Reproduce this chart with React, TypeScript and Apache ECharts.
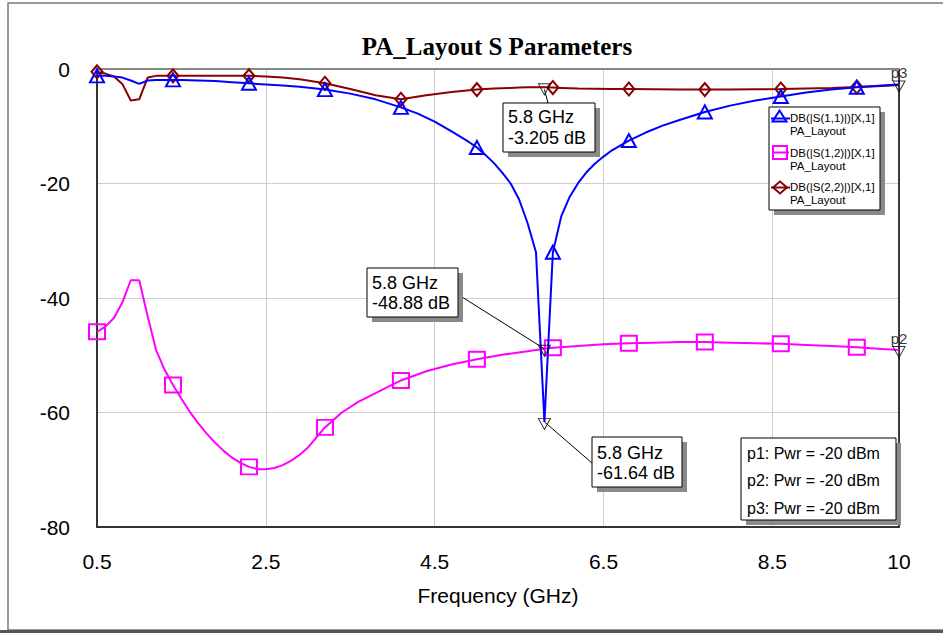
import React, { useEffect, useRef } from "react";
import * as echarts from "echarts";

// S(1,1): frequency grid (GHz) and values (dB)
const f11 = [0.5,0.6,0.7,0.8,0.9,1.0,1.1,1.2,1.3,1.4,1.5,1.7,1.9,2.1,2.3,2.5,2.7,2.9,3.2,3.5,3.8,4.1,4.3,4.5,4.7,4.9,5.0,5.1,5.2,5.3,5.4,5.5,5.6,5.7,5.8,5.9,6.0,6.1,6.2,6.3,6.4,6.5,6.6,6.8,7.0,7.2,7.4,7.7,8.0,8.3,8.6,8.9,9.2,9.5,9.8,10.0];
const s11 = [-1.2,-1.2,-1.3,-1.5,-2.0,-2.6,-2.0,-1.9,-1.9,-1.9,-1.9,-2.0,-2.1,-2.3,-2.5,-2.7,-2.9,-3.1,-3.6,-4.3,-5.3,-6.7,-7.8,-9.2,-10.9,-12.7,-13.7,-15.0,-16.4,-18.1,-20.0,-22.8,-26.9,-32.0,-61.64,-32.0,-25.7,-22.3,-19.9,-18.0,-16.5,-15.3,-14.2,-12.5,-11.1,-9.9,-8.9,-7.5,-6.4,-5.5,-4.8,-4.1,-3.6,-3.2,-2.9,-2.7];

// S(1,2): frequency grid (GHz) and values (dB)
const f12 = [0.5,0.6,0.7,0.8,0.9,1.0,1.1,1.2,1.3,1.4,1.5,1.6,1.7,1.8,1.9,2.0,2.1,2.2,2.3,2.4,2.5,2.6,2.7,2.8,2.9,3.0,3.2,3.4,3.6,3.8,4.1,4.4,4.7,5.0,5.3,5.6,5.8,5.9,6.2,6.5,6.8,7.1,7.4,7.7,8.0,8.3,8.6,8.9,9.2,9.5,9.8,10.0];
const s12 = [-45.9,-45.0,-43.5,-40.8,-36.9,-36.9,-43.2,-49.1,-52.5,-55.2,-57.6,-59.9,-61.9,-63.7,-65.3,-66.7,-67.9,-68.8,-69.5,-69.9,-69.9,-69.7,-69.2,-68.4,-67.4,-66.1,-62.6,-60.0,-58.1,-56.6,-54.4,-52.8,-51.6,-50.7,-49.9,-49.3,-48.88,-48.7,-48.4,-48.1,-47.9,-47.8,-47.7,-47.7,-47.8,-47.9,-48.0,-48.2,-48.4,-48.6,-48.9,-49.1];

// S(2,2): frequency grid (GHz) and values (dB)
const f22 = [0.5,0.6,0.7,0.8,0.9,1.0,1.1,1.2,1.3,1.4,1.5,1.7,1.9,2.1,2.3,2.5,2.7,2.9,3.2,3.5,3.8,4.1,4.4,4.7,5.0,5.2,5.4,5.5,5.6,5.7,5.8,5.9,6.0,6.1,6.2,6.4,6.6,6.8,7.1,7.4,7.7,8.0,8.3,8.6,8.9,9.2,9.5,9.8,10.0];
const s22 = [-0.5,-0.8,-1.3,-2.6,-5.5,-5.3,-1.5,-1.2,-1.2,-1.2,-1.2,-1.2,-1.2,-1.2,-1.2,-1.3,-1.5,-1.8,-2.5,-3.5,-4.6,-5.3,-4.6,-4.0,-3.6,-3.4,-3.3,-3.25,-3.2,-3.2,-3.205,-3.25,-3.3,-3.35,-3.4,-3.45,-3.5,-3.5,-3.55,-3.6,-3.6,-3.6,-3.55,-3.5,-3.4,-3.3,-3.15,-2.95,-2.8];

const markerFreqs = [0.5,1.4,2.3,3.2,4.1,5.0,5.9,6.8,7.7,8.6,9.5];

const seriesNames = ["DB(|S(1,1)|)[X,1]", "DB(|S(1,2)|)[X,1]", "DB(|S(2,2)|)[X,1]"];
const seriesSub = "PA_Layout";

const markerFreq = 5.8;
const markerVals = [-3.205, -48.88, -61.64];
const markerTexts = [["5.8 GHz", "-3.205 dB"], ["5.8 GHz", "-48.88 dB"], ["5.8 GHz", "-61.64 dB"]];
const portMarkers = [
  { name: "p3", f: 10, v: -2.7 },
  { name: "p2", f: 10, v: -49.1 },
];
const powerLines = ["p1: Pwr = -20 dBm", "p2: Pwr = -20 dBm", "p3: Pwr = -20 dBm"];

const xMin = 0.5, xMax = 10, xInterval = 2;
const yMin = -80, yMax = 0, yInterval = 20;

const SANS = "'Liberation Sans', Arial, Helvetica, sans-serif";
const SERIF = "'Liberation Serif', 'Times New Roman', serif";
const BLUE = "#0000ff";
const MAG = "#ff00ff";
const MAROON = "#8b0000";

function buildData(fs: number[], vals: number[]) {
  return fs.map((f, i) => {
    const item: any = { value: [f, vals[i]] };
    if (!markerFreqs.includes(f)) item.symbol = "none";
    return item;
  });
}

function box(x: number, y: number, w: number, h: number, lines: string[], fontSize: number, lineGap: number, textTop: number, textLeft: number) {
  const els: any[] = [
    { type: "rect", shape: { x: x + 5, y: y + 5, width: w, height: h }, style: { fill: "#8a8a8a" }, z: 100 },
    { type: "rect", shape: { x, y, width: w, height: h }, style: { fill: "#fff", stroke: "#000", lineWidth: 1 }, z: 101 },
  ];
  lines.forEach((t, i) => {
    els.push({
      type: "text", x: textLeft, y: textTop + i * lineGap, z: 102,
      style: { text: t, fill: "#000", font: `${fontSize}px ${SANS}`, verticalAlign: "middle", align: "left" },
    });
  });
  return els;
}

export default function App() {
  const ref = useRef<HTMLDivElement>(null);
  useEffect(() => {
    if (!ref.current) return;
    const chart = echarts.init(ref.current, null, { renderer: "svg" });
    const axisCommon = { min: xMin, max: xMax, interval: xInterval };
    const option: any = {
      animation: false,
      backgroundColor: "#fff",
      grid: { left: 97, top: 69, right: 44, bottom: 106 },
      xAxis: [
        {
          type: "value", position: "bottom", ...axisCommon,
          axisLine: { show: true, onZero: false, lineStyle: { color: "#333", width: 2 } },
          axisTick: { show: false },
          axisLabel: { color: "#000", fontSize: 21, fontFamily: SANS, margin: 24 },
          splitLine: { show: true, lineStyle: { color: "#cfcfcf", width: 1 } },
          name: "Frequency (GHz)", nameLocation: "middle", nameGap: 58,
          nameTextStyle: { color: "#000", fontSize: 21, fontFamily: SANS },
        },
        {
          type: "value", position: "top", ...axisCommon,
          axisLine: { show: true, onZero: false, lineStyle: { color: "#888", width: 2 } },
          axisTick: { show: false }, axisLabel: { show: false }, splitLine: { show: false },
        },
      ],
      yAxis: [
        {
          type: "value", min: yMin, max: yMax, interval: yInterval,
          axisLine: { show: true, onZero: false, lineStyle: { color: "#333", width: 2 } },
          axisTick: { show: false },
          axisLabel: { color: "#000", fontSize: 21, fontFamily: SANS, margin: 27 },
          splitLine: { show: true, lineStyle: { color: "#cfcfcf", width: 1 } },
        },
        {
          type: "value", position: "right", min: yMin, max: yMax, interval: yInterval,
          axisLine: { show: true, onZero: false, lineStyle: { color: "#000", width: 1.5 } },
          axisTick: { show: false }, axisLabel: { show: false }, splitLine: { show: false },
        },
      ],
      series: [
        {
          name: seriesNames[0], type: "line", data: buildData(f11, s11),
          symbol: "triangle", symbolSize: [14, 13], showAllSymbol: true,
          lineStyle: { color: BLUE, width: 2 },
          itemStyle: { color: "rgba(0,0,0,0)", borderColor: BLUE, borderWidth: 2 },
          z: 3,
        },
        {
          name: seriesNames[1], type: "line", data: buildData(f12, s12),
          symbol: "rect", symbolSize: [16, 15], showAllSymbol: true,
          lineStyle: { color: MAG, width: 2 },
          itemStyle: { color: "rgba(0,0,0,0)", borderColor: MAG, borderWidth: 2 },
          z: 2,
        },
        {
          name: seriesNames[2], type: "line", data: buildData(f22, s22),
          symbol: "diamond", symbolSize: [11, 13], showAllSymbol: true,
          lineStyle: { color: MAROON, width: 2 },
          itemStyle: { color: "rgba(0,0,0,0)", borderColor: MAROON, borderWidth: 2 },
          z: 2,
        },
        {
          type: "scatter",
          data: [
            ...markerVals.map((v) => ({ value: [markerFreq, v] })),
            ...portMarkers.map((p) => ({
              value: [p.f, p.v], name: p.name,
              label: { show: true, position: "top", distance: 0, formatter: "{b}", color: "#000", fontSize: 15, fontFamily: SANS },
            })),
          ],
          symbol: "triangle", symbolRotate: 180, symbolSize: [12, 11], symbolOffset: [0, 2],
          itemStyle: { color: "rgba(255,255,255,0)", borderColor: "#000", borderWidth: 1 },
          z: 5,
        },
      ],
    };
    chart.setOption(option);

    const px = (f: number, v: number) => chart.convertToPixel({ gridIndex: 0 }, [f, v]) as number[];
    const m0 = px(markerFreq, markerVals[0]);
    const m1 = px(markerFreq, markerVals[1]);
    const m2 = px(markerFreq, markerVals[2]);

    const legendEls: any[] = [
      { type: "rect", shape: { x: 774, y: 112, width: 111, height: 103 }, style: { fill: "#8a8a8a" }, z: 100 },
      { type: "rect", shape: { x: 769, y: 107, width: 111, height: 103 }, style: { fill: "#fff", stroke: "#000", lineWidth: 1 }, z: 101 },
      { type: "line", shape: { x1: 771, y1: 118.5, x2: 790, y2: 118.5 }, style: { stroke: BLUE, lineWidth: 2 }, z: 102 },
      { type: "polygon", shape: { points: [[779.5, 110.5], [786.5, 121.5], [772.5, 121.5]] }, style: { fill: "none", stroke: BLUE, lineWidth: 2 }, z: 102 },
      { type: "line", shape: { x1: 772, y1: 152.5, x2: 789, y2: 152.5 }, style: { stroke: MAG, lineWidth: 2 }, z: 102 },
      { type: "rect", shape: { x: 773, y: 146, width: 14, height: 13 }, style: { fill: "none", stroke: MAG, lineWidth: 2 }, z: 102 },
      { type: "line", shape: { x1: 771, y1: 187.5, x2: 790, y2: 187.5 }, style: { stroke: MAROON, lineWidth: 2 }, z: 102 },
      { type: "polygon", shape: { points: [[780, 181.5], [787, 187.5], [780, 193.5], [773, 187.5]] }, style: { fill: "none", stroke: MAROON, lineWidth: 2 }, z: 102 },
    ];
    const legendY = [118, 153, 187];
    seriesNames.forEach((n, i) => {
      legendEls.push({ type: "text", x: 790, y: legendY[i], z: 102, style: { text: n, fill: "#000", font: `11.5px ${SANS}`, verticalAlign: "middle" } });
      legendEls.push({ type: "text", x: 790, y: legendY[i] + 13, z: 102, style: { text: seriesSub, fill: "#000", font: `11.5px ${SANS}`, verticalAlign: "middle" } });
    });

    const graphic: any[] = [
      { type: "rect", shape: { x: 8, y: 3, width: 945, height: 627 }, style: { fill: "none", stroke: "#7a7a7a", lineWidth: 1.5 }, z: 0 },
      { type: "line", shape: { x1: 0, y1: 631.5, x2: 943, y2: 631.5 }, style: { stroke: "#555", lineWidth: 3 }, z: 0 },
      {
        type: "text", x: 497, y: 46, z: 10,
        style: { text: "PA_Layout S Parameters", fill: "#000", font: `bold 25px ${SERIF}`, align: "center", verticalAlign: "middle" },
      },
      { type: "line", shape: { x1: 548, y1: 103, x2: m0[0], y2: m0[1] + 2 }, style: { stroke: "#000", lineWidth: 1 }, z: 99 },
      { type: "line", shape: { x1: 462, y1: 297, x2: m1[0], y2: m1[1] }, style: { stroke: "#000", lineWidth: 1 }, z: 99 },
      { type: "line", shape: { x1: 592, y1: 463, x2: m2[0], y2: m2[1] }, style: { stroke: "#000", lineWidth: 1 }, z: 99 },
      ...box(503, 103, 92, 49, markerTexts[0], 18, 21, 117, 508),
      ...box(367, 268, 91, 49, markerTexts[1], 18, 20, 283, 372),
      ...box(592, 437, 90, 50, markerTexts[2], 18, 20, 453, 597),
      ...box(741, 438, 155, 82, powerLines, 16, 27.5, 453, 747),
      ...legendEls,
    ];
    chart.setOption({ graphic });
    return () => chart.dispose();
  }, []);
  return <div ref={ref} style={{ position: "fixed", left: 0, top: 0, width: 943, height: 633 }} />;
}
